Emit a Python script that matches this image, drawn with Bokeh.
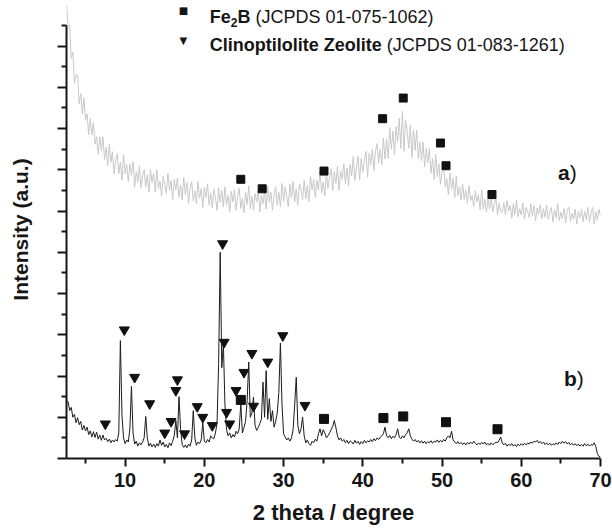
import numpy as np
from bokeh.plotting import figure
from bokeh.models import Range1d, FixedTicker, Label, LinearAxis
from bokeh.embed import file_html
from bokeh.resources import INLINE

# ---------------- data ----------------
theta_start = 2.6
theta_step = 0.2

# curve a) (grey), sampled every 0.2 degree from 2.6
curve_a = [
    11.0, 10.5, 10.5, 9.7, 9.85, 9.1, 9.3, 9.3, 8.6, 8.85, 8.35, 8.75, 8.2, 8.35, 7.85, 8.25, 7.85, 8.15, 7.62, 7.8, 7.38, 7.8, 7.46, 7.8, 7.25,
    7.55, 7.11, 7.62, 7.18, 7.44, 6.9, 7.22, 7.39, 6.91, 7.18, 6.75, 7.37, 6.9, 7.13, 6.71, 7.14, 6.87, 7.2, 6.58, 6.96, 6.7, 7.09, 6.57, 6.86, 7.0,
    6.59, 6.88, 6.46, 7.0, 6.69, 6.92, 6.46, 7.0, 6.54, 6.73, 6.36, 6.85, 6.64, 6.43, 6.92, 6.5, 6.74, 6.28, 6.77, 6.51, 6.8, 6.34, 6.63, 6.27, 6.81,
    6.4, 6.69, 6.18, 6.57, 6.71, 6.25, 6.49, 6.18, 6.72, 6.31, 6.55, 6.09, 6.58, 6.32, 6.66, 6.15, 6.44, 6.08, 6.53, 6.32, 6.02, 6.56, 6.21, 6.5, 6.1,
    6.59, 6.14, 6.38, 5.98, 6.48, 6.22, 6.52, 6.02, 6.36, 6.56, 6.06, 6.31, 5.96, 6.46, 6.16, 6.61, 6.06, 6.36, 6.02, 6.42, 6.22, 6.52, 5.98, 6.38, 6.18,
    6.49, 6.05, 6.6, 6.21, 6.46, 6.02, 6.38, 6.59, 6.14, 6.45, 6.11, 6.67, 6.23, 6.58, 6.34, 6.1, 6.66, 6.32, 6.72, 6.23, 6.54, 6.15, 6.66, 6.52, 6.28,
    6.74, 6.3, 6.62, 6.23, 6.84, 6.51, 6.77, 6.33, 6.75, 6.51, 6.97, 6.44, 6.7, 6.37, 6.93, 6.55, 6.81, 7.03, 6.49, 6.96, 6.67, 7.09, 6.5, 6.97, 6.78,
    7.15, 6.67, 7.04, 6.61, 7.13, 6.85, 7.32, 6.74, 7.06, 7.33, 6.76, 7.28, 6.95, 7.22, 7.45, 6.82, 7.4, 7.12, 7.5, 6.98, 7.46, 7.64, 7.17, 7.5, 7.13,
    7.77, 7.26, 7.75, 7.28, 8.02, 7.5, 7.94, 7.37, 8.05, 7.68, 8.25, 7.52, 8.42, 7.45, 8.2, 7.94, 7.52, 8.09, 7.3, 7.96, 7.47, 7.97, 7.27, 7.67, 7.22,
    7.67, 7.07, 7.52, 7.17, 7.52, 6.92, 7.27, 6.77, 7.38, 6.83, 7.14, 6.65, 6.96, 7.12, 6.58, 6.79, 6.4, 6.92, 6.53, 6.8, 6.32, 6.84, 6.37, 6.59, 6.27,
    6.65, 6.28, 6.51, 6.19, 6.62, 6.25, 6.38, 6.11, 6.49, 6.22, 6.4, 6.03, 6.52, 6.05, 6.29, 5.98, 6.31, 6.05, 6.34, 5.98, 6.17, 6.31, 5.9, 6.19, 5.98,
    5.97, 6.21, 5.91, 6.25, 6.0, 6.14, 5.83, 6.18, 5.92, 6.27, 5.86, 6.06, 5.9, 6.2, 5.8, 6.09, 5.99, 5.84, 6.18, 5.88, 6.13, 5.77, 6.07, 5.92, 6.16,
    5.81, 6.06, 5.85, 6.15, 5.8, 5.99, 6.09, 5.74, 6.03, 5.83, 6.18, 5.77, 5.97, 5.82, 6.06, 5.71, 6.01, 6.1, 5.75, 5.95, 5.8, 6.05, 5.69, 5.99, 5.84,
    6.04, 5.74, 5.99, 5.79, 6.09, 5.74, 5.94, 6.09, 5.69, 5.99, 5.79, 6.04, 5.89,
]

# curve b) (black), sampled every 0.2 degree from 2.6
curve_b = [
    1.40, 1.38, 1.16, 1.24, 1.0, 1.07, 0.87, 0.99, 0.82, 0.9, 0.69, 0.8, 0.67, 0.76, 0.58, 0.67, 0.52, 0.65, 0.51, 0.64, 0.47, 0.57, 0.44, 0.57, 0.45,
    0.49, 0.41, 0.47, 0.38, 0.45, 0.4, 0.46, 0.42, 0.62, 2.86, 1.05, 0.5, 0.36, 0.45, 0.4, 0.72, 1.75, 0.62, 0.35, 0.42, 0.3, 0.38, 0.33, 0.4, 0.5,
    1.02, 0.5, 0.3, 0.37, 0.28, 0.35, 0.27, 0.36, 0.3, 0.45, 0.32, 0.4, 0.28, 0.34, 0.26, 0.38, 0.31, 0.42, 0.55, 0.92, 0.5, 1.5, 0.7, 0.34, 0.27,
    0.33, 0.26, 0.35, 0.3, 0.45, 1.16, 0.5, 0.32, 0.4, 0.36, 0.45, 0.86, 0.42, 0.38, 0.46, 0.4, 0.55, 0.5, 0.48, 0.62, 0.85, 2.3, 5.0, 2.2, 2.78,
    1.3, 0.7, 0.55, 0.62, 0.5, 0.58, 0.52, 0.66, 0.6, 0.72, 1.33, 0.62, 0.75, 0.9, 1.4, 2.34, 1.0, 1.1, 1.49, 0.8, 0.68, 0.75, 0.85, 0.95, 1.85,
    1.0, 2.13, 0.95, 1.45, 0.9, 1.16, 0.76, 0.9, 1.1, 1.6, 2.8, 1.3, 0.6, 0.52, 0.45, 0.5, 0.42, 0.5, 0.7, 1.3, 1.97, 0.8, 0.6, 0.72, 1.0,
    0.55, 0.38, 0.45, 0.36, 0.32, 0.42, 0.38, 0.47, 0.42, 0.6, 0.72, 0.55, 0.7, 0.62, 0.5, 0.55, 0.62, 0.7, 0.78, 0.92, 0.75, 0.55, 0.45, 0.5, 0.42,
    0.46, 0.38, 0.44, 0.36, 0.43, 0.4, 0.35, 0.44, 0.37, 0.42, 0.34, 0.41, 0.36, 0.44, 0.38, 0.43, 0.4, 0.46, 0.41, 0.48, 0.43, 0.5, 0.46, 0.52, 0.55,
    0.6, 0.76, 0.55, 0.5, 0.56, 0.48, 0.54, 0.5, 0.58, 0.72, 0.52, 0.48, 0.55, 0.5, 0.58, 0.62, 0.72, 0.55, 0.47, 0.42, 0.46, 0.4, 0.44, 0.38, 0.43,
    0.37, 0.42, 0.36, 0.41, 0.38, 0.43, 0.37, 0.42, 0.4, 0.45, 0.39, 0.44, 0.4, 0.46, 0.42, 0.5, 0.55, 0.5, 0.66, 0.45, 0.4, 0.36, 0.41, 0.35, 0.39,
    0.34, 0.38, 0.33, 0.39, 0.35, 0.4, 0.36, 0.42, 0.37, 0.33, 0.38, 0.34, 0.39, 0.35, 0.4, 0.33, 0.37, 0.32, 0.38, 0.34, 0.36, 0.4, 0.38, 0.44, 0.52,
    0.38, 0.33, 0.37, 0.3, 0.35, 0.31, 0.36, 0.3, 0.34, 0.29, 0.35, 0.31, 0.36, 0.32, 0.37, 0.33, 0.38, 0.35, 0.4, 0.37, 0.42, 0.4, 0.44, 0.38, 0.41,
    0.36, 0.4, 0.34, 0.38, 0.33, 0.37, 0.32, 0.36, 0.33, 0.38, 0.34, 0.4, 0.36, 0.42, 0.37, 0.41, 0.35, 0.39, 0.33, 0.37, 0.32, 0.36, 0.31, 0.35, 0.3,
    0.34, 0.3, 0.36, 0.31, 0.35, 0.3, 0.34, 0.32, 0.38, 0.3, 0.12, 0.05, 0.04,
]

# Fe2B reflection markers (squares)
fe2b_a_x = [24.6, 27.3, 35.1, 42.5, 45.1, 49.8, 50.5, 56.3]
fe2b_a_y = [6.77, 6.54, 6.97, 8.24, 8.74, 7.65, 7.10, 6.40]
fe2b_b_x = [24.6, 35.1, 42.6, 45.1, 50.5, 57.0]
fe2b_b_y = [1.42, 0.96, 0.98, 1.02, 0.88, 0.71]

# Clinoptilolite reflection markers (down triangles)
clino_x = [7.5, 9.9, 11.2, 13.1, 15.0, 15.8, 16.4, 16.6, 17.5, 19.1, 19.8, 21.0,
           22.3, 22.5, 22.8, 23.2, 24.0, 25.0, 26.0, 26.2, 28.0, 29.9, 32.7]
clino_y = [0.84, 3.12, 1.97, 1.33, 0.62, 0.90, 1.65, 1.91, 0.60, 1.26, 1.00, 0.80,
           5.21, 2.82, 1.12, 0.84, 1.65, 2.09, 2.55, 1.27, 2.34, 2.98, 1.29]

x_ticks = [10, 20, 30, 40, 50, 60, 70]
x_minor = [5, 15, 25, 35, 45, 55, 65]
y_ticks = list(range(0, 11))
y_minor = [i + 0.5 for i in range(0, 11)]

x_a = [round(theta_start + theta_step * i, 2) for i in range(len(curve_a))]
x_b = [round(theta_start + theta_step * i, 2) for i in range(len(curve_b))]

FONT = "Liberation Sans"
INK = "#161616"

p = figure(width=612, height=532, x_range=Range1d(2.6, 70.0), y_range=Range1d(0, 11.106),
           output_backend="svg", toolbar_location=None,
           min_border_left=66, min_border_right=12, min_border_top=0, min_border_bottom=74)
p.outline_line_color = None
p.xgrid.grid_line_color = None
p.ygrid.grid_line_color = None

# x axis
xa = p.xaxis[0]
xa.ticker = FixedTicker(ticks=x_ticks, minor_ticks=x_minor)
xa.axis_line_width = 2
xa.axis_line_color = INK
xa.major_tick_line_width = 2
xa.minor_tick_line_width = 2
xa.major_tick_line_color = INK
xa.minor_tick_line_color = INK
xa.major_tick_out = 8
xa.major_tick_in = 0
xa.minor_tick_out = 5
xa.minor_tick_in = 0
xa.major_label_text_font = FONT
xa.major_label_text_font_style = "bold"
xa.major_label_text_font_size = "20px"
xa.major_label_text_color = INK
xa.major_label_standoff = 6
xa.axis_label = "2 theta / degree"
xa.axis_label_text_font = FONT
xa.axis_label_text_font_style = "bold"
xa.axis_label_text_font_size = "22px"
xa.axis_label_text_color = INK
xa.axis_label_standoff = 10

# y axis (no tick labels), axis line stops at 10.5
ya = p.yaxis[0]
ya.ticker = FixedTicker(ticks=y_ticks, minor_ticks=y_minor)
ya.bounds = (0, 10.5)
ya.axis_line_width = 2
ya.axis_line_color = INK
ya.major_tick_line_width = 2
ya.minor_tick_line_width = 2
ya.major_tick_line_color = INK
ya.minor_tick_line_color = INK
ya.major_tick_out = 9
ya.major_tick_in = 0
ya.minor_tick_out = 5
ya.minor_tick_in = 0
ya.major_label_overrides = {t: "" for t in y_ticks}
ya.major_label_standoff = 0

# second, invisible left axis that only carries the y title (centred a bit above the middle)
title_axis = LinearAxis(ticker=FixedTicker(ticks=[], minor_ticks=[]), bounds=(4.92, 6.92),
                        axis_line_color=None, major_tick_line_color=None, minor_tick_line_color=None,
                        major_tick_out=0, major_tick_in=0, minor_tick_out=0, minor_tick_in=0,
                        major_label_standoff=0,
                        axis_label="Intensity (a.u.)", axis_label_text_font=FONT,
                        axis_label_text_font_style="bold", axis_label_text_font_size="21px",
                        axis_label_text_color=INK, axis_label_standoff=26)
p.add_layout(title_axis, "left")

# curves
p.line(x_a, curve_a, line_color="#c8c8c8", line_width=1)
p.line(x_b, curve_b, line_color="#1c1c1c", line_width=1)

# markers
p.scatter(fe2b_a_x, fe2b_a_y, marker="square", size=8, fill_color="#111111", line_color="#111111")
p.scatter(fe2b_b_x, fe2b_b_y, marker="square", size=9, fill_color="#111111", line_color="#111111")
p.scatter(clino_x, clino_y, marker="inverted_triangle", size=10, fill_color="#111111", line_color="#111111")

def lab(x, y, text, size, bold=False, dx=0, dy=0, align="left", baseline="alphabetic", font=FONT):
    p.add_layout(Label(x=x, y=y, text=text, x_offset=dx, y_offset=dy,
                       text_font=font, text_font_size=size,
                       text_font_style="bold" if bold else "normal",
                       text_color=INK, text_align=align, text_baseline=baseline))

# curve tags
lab(64.64, 6.93, "a", "21px", bold=True)
lab(64.64, 6.93, ")", "21px", dx=11.7)
lab(65.4, 1.94, "b", "21px", bold=True)
lab(65.4, 1.94, ")", "21px", dx=12.8)

# legend
lab(17.35, 10.87, "\u25A0", "10px", align="center", baseline="middle", font="DejaVu Sans")
lab(17.35, 10.14, "\u25BC", "10px", align="center", baseline="middle", font="DejaVu Sans")
lab(20.67, 10.7, "Fe", "18px", bold=True)
lab(20.67, 10.7, "2", "12px", bold=True, dx=21.0, dy=-5)
lab(20.67, 10.7, "B", "18px", bold=True, dx=27.8)
lab(20.67, 10.7, "(JCPDS 01-075-1062)", "18px", dx=45.8)
lab(20.67, 10.02, "Clinoptilolite Zeolite", "18px", bold=True)
lab(20.67, 10.02, "(JCPDS 01-083-1261)", "18px", dx=177)

open("out.html", "w").write(file_html(p, INLINE))
